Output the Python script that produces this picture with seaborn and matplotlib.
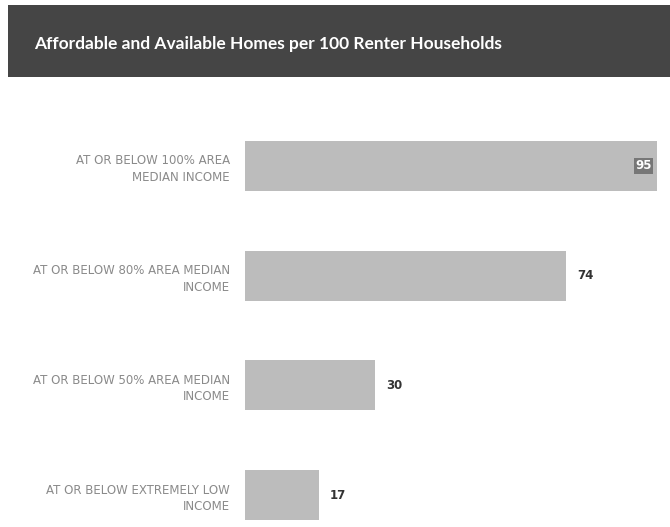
import matplotlib
matplotlib.use("Agg")
import matplotlib.pyplot as plt
import seaborn as sns
import pandas as pd
from matplotlib.patches import Rectangle

categories = [
    "AT OR BELOW 100% AREA\nMEDIAN INCOME",
    "AT OR BELOW 80% AREA MEDIAN\nINCOME",
    "AT OR BELOW 50% AREA MEDIAN\nINCOME",
    "AT OR BELOW EXTREMELY LOW\nINCOME",
]
values = [95, 74, 30, 17]
title = "Affordable and Available Homes per 100 Renter Households"

sns.set_theme(style="white")
plt.rcParams['font.family'] = ['DejaVu Sans']

df = pd.DataFrame({"category": categories, "value": values})

fig = plt.figure(figsize=(6.70, 5.27), dpi=100)
fig.patch.set_facecolor("white")

# title banner
fig.patches.append(Rectangle((8/670, 1 - 77/527), 662/670, 72/527,
                             transform=fig.transFigure, facecolor="#454545",
                             edgecolor="none", zorder=0))
fig.text(34/670, 1 - 44/527, title, color="white", fontsize=12.5,
         fontweight="bold", ha="left", va="center", family="Lato")

ax = fig.add_axes([245/670, 0, 425/670, 417/527])
sns.barplot(data=df, y="category", x="value", orient="h", color="#bcbcbc",
            saturation=1, width=0.455, ax=ax, edgecolor="none")
ax.set_xlim(0, 98)
ax.set_ylim(3.29, -0.51)
ax.set_xlabel("")
ax.set_ylabel("")
ax.set_xticks([])
for s in ax.spines.values():
    s.set_visible(False)
ax.tick_params(axis="y", length=0, pad=11, labelsize=8.5, labelcolor="#8a8a8a")
for lbl in ax.get_yticklabels():
    lbl.set_horizontalalignment("right")
    lbl.set_multialignment("right")
    lbl.set_linespacing(1.35)

for i, v in enumerate(values):
    if i == 0:
        ax.text(v - 1.2, i, str(v), ha="right", va="center", fontsize=8.5,
                fontweight="bold", color="white",
                bbox=dict(boxstyle="square,pad=0.1", facecolor="#777777", edgecolor="none"))
    else:
        ax.text(v + 2.5, i, str(v), ha="left", va="center", fontsize=8.5,
                fontweight="bold", color="#333333")

fig.savefig("out.png", dpi=100)
